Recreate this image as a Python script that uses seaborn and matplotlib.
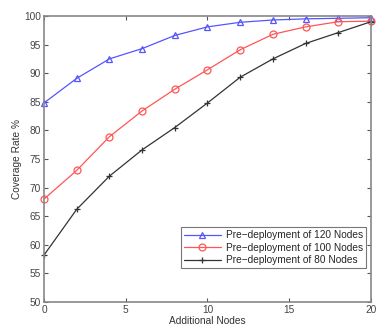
import matplotlib
matplotlib.use('Agg')
import matplotlib.pyplot as plt
import seaborn as sns
import pandas as pd

# Data
additional_nodes = [0, 2, 4, 6, 8, 10, 12, 14, 16, 18, 20]
cov_120 = [84.8, 89.1, 92.5, 94.3, 96.6, 98.1, 98.9, 99.3, 99.5, 99.6, 99.7]
cov_100 = [68.0, 73.0, 78.9, 83.4, 87.2, 90.6, 94.1, 96.8, 98.1, 99.0, 99.1]
cov_80 = [58.2, 66.2, 72.0, 76.6, 80.5, 84.8, 89.3, 92.5, 95.2, 97.1, 99.0]
series_labels = ["Pre\u2212deployment of 120 Nodes",
                 "Pre\u2212deployment of 100 Nodes",
                 "Pre\u2212deployment of 80 Nodes"]

sns.set_style("ticks", {"xtick.direction": "in", "ytick.direction": "in"})
plt.rcParams['font.family'] = ['Liberation Sans', 'DejaVu Sans']

df = pd.DataFrame({
    "nodes": additional_nodes * 3,
    "coverage": cov_120 + cov_100 + cov_80,
    "series": [series_labels[0]] * 11 + [series_labels[1]] * 11 + [series_labels[2]] * 11,
})

fig = plt.figure(figsize=(3.79, 3.27), dpi=100)
ax = fig.add_axes([44 / 379, 1 - 302 / 327, (371 - 44) / 379, (302 - 16) / 327])

styles = {
    series_labels[0]: dict(color="#5555ff", marker="^"),
    series_labels[1]: dict(color="#ff5555", marker="o"),
    series_labels[2]: dict(color="#333333", marker="+"),
}
for name in series_labels:
    sub = df[df["series"] == name]
    st = styles[name]
    sns.lineplot(data=sub, x="nodes", y="coverage", ax=ax, color=st["color"],
                 marker=st["marker"], markersize=5, linewidth=0.9,
                 markerfacecolor="none" if st["marker"] != "+" else st["color"],
                 markeredgecolor=st["color"], markeredgewidth=0.9,
                 label=name, clip_on=False)

ax.set_xlim(0, 20)
ax.set_ylim(50, 100)
ax.set_xticks([0, 5, 10, 15, 20])
ax.set_yticks(range(50, 101, 5))
ax.tick_params(labelsize=7.3, colors="#555555", length=3, top=True, right=True,
               labelcolor="#444444", pad=2)
for s in ax.spines.values():
    s.set_visible(True)
    s.set_color("#888888")
    s.set_linewidth(1.2)

ax.set_xlabel("Additional Nodes", fontsize=7.3, color="#333333", labelpad=1)
ax.set_ylabel("Coverage Rate %", fontsize=7.3, color="#333333", labelpad=2)

leg = ax.legend(loc="lower right", bbox_to_anchor=(1.0, 0.1), fontsize=7.3,
                frameon=True, fancybox=False, edgecolor="#555555",
                handlelength=3.6, borderpad=0.3, labelspacing=0.25,
                handletextpad=0.5)
leg.get_frame().set_linewidth(0.8)

fig.savefig("out.png", dpi=100)
